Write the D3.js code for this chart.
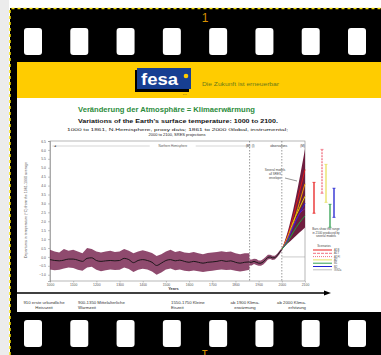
<!DOCTYPE html>
<html>
<head>
<meta charset="utf-8">
<script src="https://cdn.jsdelivr.net/npm/d3@7"></script>
<style>
  html, body { margin: 0; padding: 0; background: #fff; }
  svg { display: block; font-family: "Liberation Sans", Arial, sans-serif; }
</style>
</head>
<body>
<svg id="chart" width="381" height="355"></svg>
<script>
// ---- data ----
const proxyYears = d3.range(1000, 1861, 20);
const proxyMean = [-0.15, -0.2, -0.22, -0.18, -0.12, -0.12, -0.18, -0.25, -0.08, -0.05, -0.2, -0.25, -0.22, -0.2, -0.22,
  -0.2, -0.08, -0.15, -0.32, -0.2, -0.15, -0.2, -0.3, -0.48, -0.35, -0.2, -0.15, -0.22, -0.18, -0.25, -0.3, -0.25,
  -0.3, -0.35, -0.3, -0.28, -0.25, -0.2, -0.25, -0.22, -0.3, -0.35, -0.3, -0.28];
const proxyHigh = [0.4, 0.3, 0.25, 0.45, 0.35, 0.4, 0.3, 0.2, 0.5, 0.45, 0.3, 0.25, 0.3, 0.35, 0.28, 0.3, 0.45, 0.35,
  0.2, 0.3, 0.38, 0.3, 0.22, 0.05, 0.15, 0.3, 0.4, 0.28, 0.33, 0.25, 0.22, 0.27, 0.2, 0.15, 0.22, 0.25, 0.28, 0.32,
  0.28, 0.3, 0.2, 0.15, 0.2, 0.2];
const proxyLow = [-0.7, -0.75, -0.72, -0.65, -0.6, -0.62, -0.72, -0.78, -0.6, -0.55, -0.72, -0.8, -0.75, -0.7, -0.74,
  -0.72, -0.6, -0.68, -0.85, -0.72, -0.66, -0.7, -0.82, -1.0, -0.88, -0.7, -0.65, -0.75, -0.7, -0.78, -0.8, -0.76,
  -0.8, -0.85, -0.8, -0.78, -0.74, -0.7, -0.74, -0.72, -0.78, -0.82, -0.78, -0.72];

const instYears = [1860, 1870, 1880, 1890, 1900, 1910, 1920, 1930, 1940, 1950, 1960, 1970, 1980, 1990, 2000];
const instMean = [-0.3, -0.3, -0.25, -0.3, -0.35, -0.35, -0.28, -0.15, -0.02, 0.0, -0.05, -0.05, 0.08, 0.25, 0.42];
const instHigh = [-0.15, -0.15, -0.1, -0.12, -0.2, -0.2, -0.12, 0.0, 0.12, 0.12, 0.07, 0.07, 0.18, 0.35, 0.5];
const instLow = [-0.48, -0.48, -0.4, -0.45, -0.5, -0.5, -0.42, -0.3, -0.15, -0.12, -0.17, -0.15, -0.02, 0.15, 0.35];

const projYears = [2000, 2025, 2050, 2075, 2100];
const projHigh = [0.42, 1.4, 2.7, 4.3, 6.05];
const projLow = [0.42, 0.75, 1.05, 1.35, 1.65];
const scenarios = [
  {name: "A1FI", color: "#e01818", values: [0.42, 1.2, 2.3, 3.6, 4.9]},
  {name: "A2", color: "#f0a000", values: [0.42, 1.0, 1.9, 3.0, 4.1]},
  {name: "A1B", color: "#e8d800", values: [0.42, 1.1, 2.0, 2.7, 3.4]},
  {name: "B2", color: "#2020e0", values: [0.42, 0.95, 1.7, 2.4, 3.0]},
  {name: "A1T", color: "#8020a0", values: [0.42, 1.0, 1.8, 2.4, 2.7]},
  {name: "B1", color: "#20a040", values: [0.42, 0.85, 1.4, 1.9, 2.3]}
];

// ranges in 2100 for several models (bars right of the plot)
const barNames = ["A1B", "A1T", "A1FI", "A2", "B1", "B2"];
const barLow = {A1B: 2.45, A1FI: 3.57, A2: 3.06, B1: 1.66, B2: 2.22};
const barHigh = {A1B: 4.18, A1FI: 6.03, A2: 5.19, B1: 2.95, B2: 3.85};
const barColor = {A1B: "#e82020", A1FI: "#f07080", A2: "#e8e060", B1: "#30a050", B2: "#2020d0"};

const legendNames = ["A1B", "A1T", "A1FI", "A2", "B1", "B2", "IS92a"];
const legendColors = ["#e82020", "#f07080", "#f07080", "#e8e060", "#30a050", "#2020d0", "#c0c0c0"];
const legendDash = [null, "3 1", "1 1", null, null, null, null];

const xTicks = [1000, 1100, 1200, 1300, 1400, 1500, 1600, 1700, 1800, 1900, 2000, 2100];
const yTicks = [-1.0, -0.5, 0.0, 0.5, 1.0, 1.5, 2.0, 2.5, 3.0, 3.5, 4.0, 4.5, 5.0, 5.5, 6.0, 6.5];

const epochLabels = [
  {l1: "910 erste urkundliche", l2: "Heisszeit", x: 44, anchor: "middle"},
  {l1: "900-1350 Mittelalterliche", l2: "Warmzeit", x: 78, anchor: "start"},
  {l1: "1550-1750 Kleine", l2: "Eiszeit", x: 171, anchor: "start"},
  {l1: "ab 1900 Klima-", l2: "erwärmung", x: 245, anchor: "middle"},
  {l1: "ab 2000 Klima-", l2: "erhitzung", x: 306, anchor: "end"}
];

const svg = d3.select("#chart");

// ---- film strip ----
svg.append("rect").attr("x", 0).attr("y", 0).attr("width", 9).attr("height", 355).attr("fill", "#ececec");
svg.append("rect").attr("x", 10).attr("y", 8).attr("width", 371).attr("height", 347).attr("fill", "#000");
svg.append("path").attr("d", "M10,355V8.5H381").attr("fill", "none")
  .attr("stroke", "#f5e000").attr("stroke-width", 1.5).attr("stroke-dasharray", "3 3");

const holeX = d3.scalePoint().domain(d3.range(8)).range([24, 348]);
for (const hy of [28, 320]) {
  svg.append("g").selectAll("rect").data(holeX.domain()).join("rect")
    .attr("x", d => holeX(d)).attr("y", hy).attr("width", 18).attr("height", 27)
    .attr("rx", 3).attr("fill", "#fff");
}
svg.append("text").attr("x", 205).attr("y", 22).attr("text-anchor", "middle")
  .attr("font-size", 12).attr("fill", "#d89000").text("1");
svg.append("text").attr("transform", "translate(205,350) rotate(180)").attr("text-anchor", "middle")
  .attr("font-size", 12).attr("fill", "#d89000").text("1");

// ---- slide ----
svg.append("rect").attr("x", 17).attr("y", 62).attr("width", 364).attr("height", 250).attr("fill", "#fff");
svg.append("rect").attr("x", 17).attr("y", 62).attr("width", 364).attr("height", 36).attr("fill", "#ffcc00");

// logo
svg.append("rect").attr("x", 135).attr("y", 70).attr("width", 54).attr("height", 22).attr("fill", "#000");
svg.append("rect").attr("x", 137).attr("y", 68).attr("width", 54).attr("height", 21).attr("fill", "#173f92");
svg.append("text").attr("x", 141).attr("y", 85).attr("font-size", 17).attr("font-weight", "bold")
  .attr("fill", "#fff").attr("textLength", 37).attr("lengthAdjust", "spacingAndGlyphs").text("fesa");
svg.append("circle").attr("cx", 186).attr("cy", 76).attr("r", 2.3).attr("fill", "#ffcc00");
svg.append("text").attr("x", 183).attr("y", 95).attr("font-size", 2.5).attr("fill", "#333").text("e.V.");
svg.append("text").attr("x", 202).attr("y", 86).attr("font-size", 5).attr("fill", "#6b7a1a")
  .attr("textLength", 77).attr("lengthAdjust", "spacingAndGlyphs").text("Die Zukunft ist erneuerbar");

// titles
svg.append("text").attr("x", 78).attr("y", 111.5).attr("font-size", 7.5).attr("font-weight", "bold")
  .attr("fill", "#2c8c3c").attr("textLength", 177).attr("lengthAdjust", "spacingAndGlyphs")
  .text("Veränderung der Atmosphäre = Klimaerwärmung");
svg.append("text").attr("x", 78).attr("y", 123).attr("font-size", 5.5).attr("font-weight", "bold")
  .attr("fill", "#111").attr("textLength", 200).attr("lengthAdjust", "spacingAndGlyphs")
  .text("Variations of the Earth's surface temperature: 1000 to 2100.");
svg.append("text").attr("x", 67).attr("y", 131).attr("font-size", 4).attr("fill", "#222")
  .attr("textLength", 221).attr("lengthAdjust", "spacingAndGlyphs")
  .text("1000 to 1861, N.Hemisphere, proxy data; 1861 to 2000 Global, instrumental;");
svg.append("text").attr("x", 177).attr("y", 135.5).attr("font-size", 4).attr("fill", "#222")
  .attr("text-anchor", "middle").text("2000 to 2100, SRES projections");

// ---- plot ----
const m = {left: 50, right: 305, top: 141, bottom: 281};
const x = d3.scaleLinear().domain([1000, 2100]).range([m.left, m.right]);
const y = d3.scaleLinear().domain([-1.35, 6.5]).range([m.bottom, m.top]);

const plot = svg.append("g");
plot.append("rect").attr("x", m.left).attr("y", m.top).attr("width", m.right - m.left)
  .attr("height", m.bottom - m.top).attr("fill", "#fff").attr("stroke", "#888").attr("stroke-width", 0.6);

// top band labels
plot.append("line").attr("x1", x(1010)).attr("x2", x(1855)).attr("y1", 146).attr("y2", 146)
  .attr("stroke", "#aaa").attr("stroke-width", 0.5);
plot.append("rect").attr("x", x(1430)).attr("y", 144).attr("width", 46).attr("height", 4).attr("fill", "#fff");
plot.append("text").attr("x", x(1530)).attr("y", 147.3).attr("text-anchor", "middle").attr("font-size", 3)
  .attr("fill", "#555").text("Northern Hemisphere");
plot.append("text").attr("x", x(1015)).attr("y", 147.3).attr("font-size", 3).attr("fill", "#333").text("◄");
plot.append("text").attr("x", x(1845)).attr("y", 147.3).attr("font-size", 3).attr("fill", "#333").text("(M)");
plot.append("text").attr("x", x(1870)).attr("y", 147.3).attr("font-size", 3).attr("fill", "#333").text("(I)");
plot.append("text").attr("x", x(1950)).attr("y", 147.3).attr("font-size", 3).attr("fill", "#333").text("observations");
plot.append("text").attr("x", x(2080)).attr("y", 147.3).attr("font-size", 3).attr("fill", "#333").text("(M)");

// era separators
for (const yr of [1861, 2000]) {
  plot.append("line").attr("x1", x(yr)).attr("x2", x(yr)).attr("y1", m.top).attr("y2", m.bottom)
    .attr("stroke", "#555").attr("stroke-width", 0.6).attr("stroke-dasharray", "1.5 1.5");
}
plot.append("line").attr("x1", x(2000)).attr("x2", x(2100)).attr("y1", y(0)).attr("y2", y(0))
  .attr("stroke", "#999").attr("stroke-width", 0.5);

// axes
const yAxis = d3.axisLeft(y).tickValues(yTicks).tickSize(2).tickFormat(d3.format(".1f"));
plot.append("g").attr("transform", `translate(${m.left},0)`).call(yAxis)
  .call(g => g.select(".domain").attr("stroke", "#888").attr("stroke-width", 0.6))
  .call(g => g.selectAll("line").attr("stroke", "#888").attr("stroke-width", 0.5))
  .call(g => g.selectAll("text").attr("font-size", 3.4).attr("fill", "#555").attr("x", -4));
const xAxis = d3.axisBottom(x).tickValues(xTicks).tickSize(1.5).tickFormat(d3.format("d"));
plot.append("g").attr("transform", `translate(0,${m.bottom})`).call(xAxis)
  .call(g => g.select(".domain").remove())
  .call(g => g.selectAll("line").attr("stroke", "#888").attr("stroke-width", 0.5))
  .call(g => g.selectAll("text").attr("font-size", 3.4).attr("fill", "#555").attr("y", 2.5));
plot.append("text").attr("x", (m.left + m.right) / 2 - 4).attr("y", 290).attr("text-anchor", "middle")
  .attr("font-size", 4).attr("font-weight", "bold").attr("fill", "#444").text("Years");
plot.append("text").attr("transform", `translate(27,210) rotate(-90)`).attr("text-anchor", "middle")
  .attr("font-size", 3.6).attr("fill", "#555")
  .attr("textLength", 96).attr("lengthAdjust", "spacingAndGlyphs")
  .text("Departures in temperature (°C) from the 1961-1990 average");

// bands
const band = d3.area().x(d => x(d[0])).y0(d => y(d[1])).y1(d => y(d[2]));
const mean = d3.line().x(d => x(d[0])).y(d => y(d[1])).curve(d3.curveMonotoneX);
const maroon = "#7b2a55";
plot.append("path").datum(proxyYears.map((yr, i) => [yr, proxyLow[i], proxyHigh[i]]))
  .attr("d", band).attr("fill", maroon).attr("opacity", 0.85);
plot.append("path").datum(instYears.map((yr, i) => [yr, instLow[i], instHigh[i]]))
  .attr("d", band).attr("fill", maroon).attr("opacity", 0.85);
plot.append("path").datum(projYears.map((yr, i) => [yr, projLow[i], projHigh[i]]))
  .attr("d", band.curve(d3.curveMonotoneX)).attr("fill", "#6e1d3f");

plot.append("path").datum(proxyYears.map((yr, i) => [yr, proxyMean[i]]))
  .attr("d", mean).attr("fill", "none").attr("stroke", "#111").attr("stroke-width", 0.9);
plot.append("path").datum(instYears.map((yr, i) => [yr, instMean[i]]))
  .attr("d", d3.line().x(d => x(d[0])).y(d => y(d[1]))).attr("fill", "none")
  .attr("stroke", "#111").attr("stroke-width", 0.9);

plot.selectAll(".scen").data(scenarios).join("path").attr("class", "scen")
  .attr("d", s => mean(projYears.map((yr, i) => [yr, s.values[i]])))
  .attr("fill", "none").attr("stroke", s => s.color).attr("stroke-width", 1);

// annotation
["Several models", "all SRES", "envelope"].forEach((t, i) => {
  plot.append("text").attr("x", 275).attr("y", 171 + i * 3.8).attr("text-anchor", "middle")
    .attr("font-size", 3).attr("fill", "#444").text(t);
});
plot.append("line").attr("x1", 285).attr("y1", 178).attr("x2", 297).attr("y2", 181)
  .attr("stroke", "#333").attr("stroke-width", 0.5);

// bars right of plot
const bx = d3.scalePoint().domain(barNames).range([314, 334]);
const bars = svg.append("g").selectAll("g").data(barNames.filter(n => barLow[n] !== undefined)).join("g");
bars.append("line").attr("x1", n => bx(n)).attr("x2", n => bx(n))
  .attr("y1", n => y(barLow[n])).attr("y2", n => y(barHigh[n]))
  .attr("stroke", n => barColor[n]).attr("stroke-width", 1.3)
  .attr("stroke-dasharray", n => n === "A1FI" ? "2 1" : null);
for (const key of ["low", "high"]) {
  bars.append("line").attr("x1", n => bx(n) - 1.5).attr("x2", n => bx(n) + 1.5)
    .attr("y1", n => y(key === "low" ? barLow[n] : barHigh[n]))
    .attr("y2", n => y(key === "low" ? barLow[n] : barHigh[n]))
    .attr("stroke", n => barColor[n]).attr("stroke-width", 0.8);
}
["Bars show the range", "in 2100 produced by", "several models"].forEach((t, i) => {
  svg.append("text").attr("x", 326).attr("y", 230 + i * 3.6).attr("text-anchor", "middle")
    .attr("font-size", 3).attr("fill", "#444").text(t);
});

// scenario legend
svg.append("text").attr("x", 324).attr("y", 247).attr("text-anchor", "middle")
  .attr("font-size", 3).attr("fill", "#444").text("Scenarios");
const leg = svg.append("g").selectAll("g").data(legendNames).join("g")
  .attr("transform", (d, i) => `translate(313,${250 + i * 3.3})`);
leg.append("line").attr("x1", 0).attr("x2", 19).attr("stroke", (d, i) => legendColors[i])
  .attr("stroke-width", 1).attr("stroke-dasharray", (d, i) => legendDash[i]);
leg.append("text").attr("x", 21).attr("y", 1).attr("font-size", 2.8).attr("fill", "#555").text(d => d);

// arrow and epochs
svg.append("line").attr("x1", 17).attr("x2", 326).attr("y1", 293).attr("y2", 293)
  .attr("stroke", "#000").attr("stroke-width", 1.3);
svg.append("path").attr("d", "M331,293L324,290.5L324,295.5Z").attr("fill", "#000");
const ep = svg.append("g").selectAll("g").data(epochLabels).join("g");
ep.append("text").attr("x", d => d.x).attr("y", 304).attr("text-anchor", d => d.anchor)
  .attr("font-size", 4.3).attr("fill", "#333").text(d => d.l1);
ep.append("text").attr("x", d => d.x).attr("y", 309).attr("text-anchor", d => d.anchor)
  .attr("font-size", 4.3).attr("fill", "#333").text(d => d.l2);
</script>
</body>
</html>
